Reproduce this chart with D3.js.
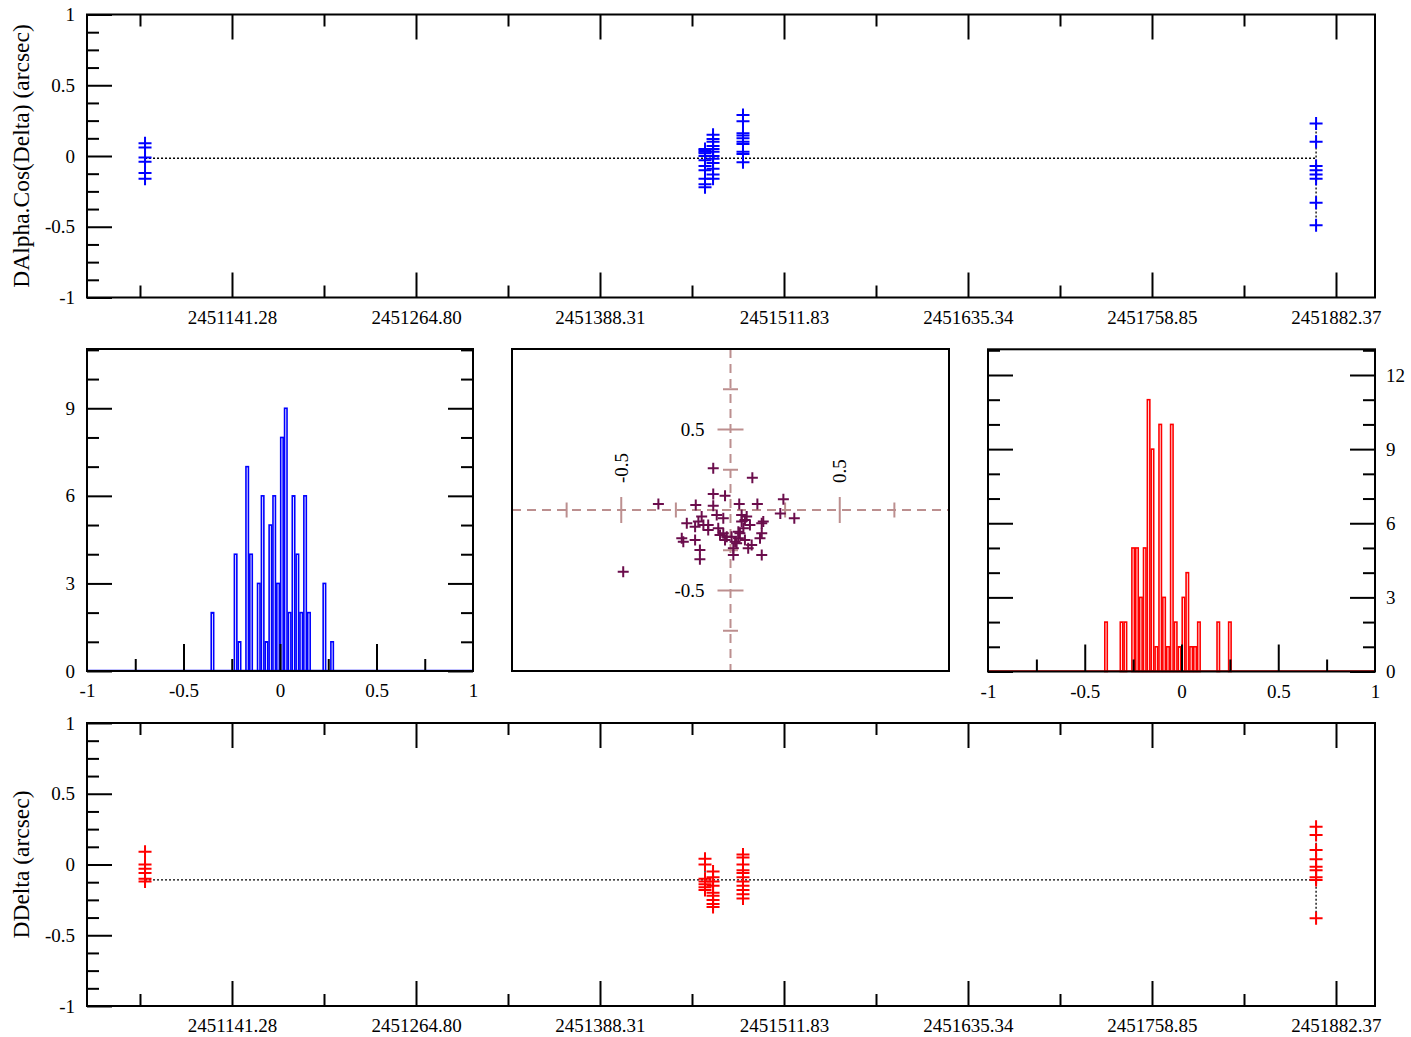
<!DOCTYPE html>
<html><head><meta charset="utf-8">
<script src="https://cdn.jsdelivr.net/npm/d3@7"></script>
<style>
body{margin:0;background:#fff}
text{font-family:"Liberation Serif","Times New Roman",serif}
</style>
</head><body>
<svg id="c" width="1411" height="1037"></svg>
<script>
// ---------------- DATA ----------------
const dateTicks = [2451141.28, 2451264.80, 2451388.31, 2451511.83, 2451635.34, 2451758.85, 2451882.37];
const dateTickLabels = ["2451141.28", "2451264.80", "2451388.31", "2451511.83", "2451635.34", "2451758.85", "2451882.37"];
const dateDomain = [2451043.95, 2451908.55];
const groupDates = [2451082.9, 2451458.8, 2451464.2, 2451484.3, 2451869.0];

const alphaByGroup = [
  [0.09, 0.06, -0.01, -0.04, -0.12, -0.16],
  [0.05, 0.04, 0.03, 0.02, 0.0, -0.03, -0.07, -0.10, -0.16, -0.20, -0.22],
  [0.15, 0.12, 0.10, 0.07, 0.05, 0.03, 0.0, -0.02, -0.05, -0.09, -0.13, -0.16],
  [0.29, 0.245, 0.16, 0.145, 0.125, 0.10, 0.085, 0.03, 0.014, -0.045],
  [0.23, 0.10, -0.07, -0.10, -0.13, -0.16, -0.33, -0.49]
];
const deltaByGroup = [
  [0.09, 0.0, -0.03, -0.06, -0.10, -0.12],
  [0.04, 0.0, -0.10, -0.12, -0.14, -0.16, -0.18],
  [-0.05, -0.09, -0.12, -0.15, -0.20, -0.22, -0.25, -0.28, -0.30],
  [0.07, 0.05, 0.0, -0.04, -0.06, -0.09, -0.12, -0.15, -0.18, -0.21, -0.24],
  [0.267, 0.208, 0.102, 0.037, -0.016, -0.04, -0.09, -0.11, -0.38]
];
const alphaMean = -0.016;
const deltaMean = -0.108;

const binWidth = 0.02;
const alphaBinCenters = [-0.35, -0.23, -0.21, -0.17, -0.15, -0.11, -0.09, -0.07, -0.05, -0.03, -0.01, 0.01, 0.03, 0.05, 0.07, 0.09, 0.11, 0.13, 0.15, 0.23, 0.27];
const alphaBinCounts  = [2, 4, 1, 7, 4, 3, 6, 1, 5, 6, 3, 8, 9, 2, 6, 4, 2, 6, 2, 3, 1];
const deltaBinCenters = [-0.39, -0.31, -0.29, -0.25, -0.23, -0.21, -0.19, -0.17, -0.15, -0.13, -0.11, -0.09, -0.07, -0.05, -0.03, -0.01, 0.01, 0.03, 0.05, 0.07, 0.09, 0.19, 0.25];
const deltaBinCounts  = [2, 2, 2, 5, 5, 3, 5, 11, 9, 1, 10, 3, 1, 10, 2, 1, 3, 4, 1, 1, 2, 2, 2];

const scatterX = [-0.079, 0.100, -0.330, -0.491, -0.079, -0.025, -0.159, -0.079, 0.040, 0.123, 0.242, 0.228, 0.292, -0.132, -0.063, -0.033, 0.051, 0.066, -0.200, -0.162, -0.124, -0.102, -0.056, -0.033, 0.005, 0.036, 0.059, 0.089, 0.143, 0.150, -0.223, -0.216, -0.162, -0.140, -0.140, -0.017, 0.021, 0.013, 0.013, 0.081, 0.097, 0.143, 0.135, 0.143, 0.043, 0.036, -0.048, -0.102, -0.025, 0.074, 0.051, -0.147, 0.028, 0.066];
const scatterY = [0.259, 0.201, 0.037, -0.383, 0.099, 0.089, 0.031, 0.027, 0.037, 0.037, 0.066, -0.021, -0.052, -0.041, -0.031, -0.052, -0.031, -0.062, -0.083, -0.104, -0.093, -0.124, -0.114, -0.145, -0.166, -0.135, -0.114, -0.093, -0.083, -0.072, -0.176, -0.197, -0.186, -0.248, -0.306, -0.166, -0.197, -0.238, -0.279, -0.238, -0.217, -0.279, -0.176, -0.145, -0.145, -0.176, -0.155, -0.093, -0.186, -0.041, -0.072, -0.072, -0.207, -0.186];

const valueTicks = [-1, -0.5, 0, 0.5, 1];
const valueTickLabels = ["-1", "-0.5", "0", "0.5", "1"];

// ---------------- DRAW ----------------
const svg = d3.select("#c");
const FS = 19;
const TITLE_FS = 23.5;
const cross = h => `M${-h},0H${h}M0,${-h}V${h}`;

function styleAxis(g, color) {
  g.select(".domain").remove();
  g.selectAll(".tick line").attr("stroke", color || "#000").attr("stroke-width", 2);
  g.selectAll(".tick text").attr("font-size", FS).attr("fill", "#000")
    .attr("font-family", '"Liberation Serif","Times New Roman",serif');
}

function timePanel(y0, y1, byGroup, mean, color, title) {
  const x = d3.scaleLinear(dateDomain, [87, 1375]);
  const y = d3.scaleLinear([-1, 1], [y1, y0]);
  const g = svg.append("g");
  const minorDates = [dateTicks[0] - (dateTicks[1] - dateTicks[0]) / 2]
    .concat(dateTicks.slice(1).map((d, i) => (d + dateTicks[i]) / 2));
  const minorVals = d3.range(-1, 1.0001, 0.125).filter(v => Math.abs(v * 2 - Math.round(v * 2)) > 1e-6);

  g.append("g").attr("transform", `translate(0,${y1})`)
    .call(d3.axisBottom(x).tickValues(dateTicks).tickSize(-25).tickPadding(13).tickFormat((d, i) => dateTickLabels[i]))
    .call(styleAxis);
  g.append("g").attr("transform", `translate(0,${y1})`)
    .call(d3.axisBottom(x).tickValues(minorDates).tickSize(-12).tickFormat(""))
    .call(styleAxis);
  g.append("g").attr("transform", `translate(0,${y0})`)
    .call(d3.axisTop(x).tickValues(dateTicks).tickSize(-25).tickFormat(""))
    .call(styleAxis);
  g.append("g").attr("transform", `translate(0,${y0})`)
    .call(d3.axisTop(x).tickValues(minorDates).tickSize(-12).tickFormat(""))
    .call(styleAxis);
  g.append("g").attr("transform", `translate(87,0)`)
    .call(d3.axisLeft(y).tickValues(valueTicks).tickSize(-25).tickPadding(12).tickFormat((d, i) => valueTickLabels[i]))
    .call(styleAxis);
  g.append("g").attr("transform", `translate(87,0)`)
    .call(d3.axisLeft(y).tickValues(minorVals).tickSize(-12).tickFormat(""))
    .call(styleAxis);

  g.append("rect").attr("x", 87).attr("y", y0).attr("width", 1288).attr("height", y1 - y0)
    .attr("fill", "none").attr("stroke", "#000").attr("stroke-width", 2);

  g.append("line").attr("x1", x(groupDates[0])).attr("x2", x(groupDates[groupDates.length - 1]))
    .attr("y1", y(mean)).attr("y2", y(mean))
    .attr("stroke", "#000").attr("stroke-width", 1.3).attr("stroke-dasharray", "2,2");
  byGroup.forEach((vals, i) => {
    g.append("line").attr("x1", x(groupDates[i])).attr("x2", x(groupDates[i]))
      .attr("y1", y(d3.max(vals))).attr("y2", y(d3.min(vals)))
      .attr("stroke", "#000").attr("stroke-width", 1.3).attr("stroke-dasharray", "2,2");
  });
  const pts = byGroup.flatMap((vals, i) => vals.map(v => [groupDates[i], v]));
  g.selectAll("path.pt").data(pts).join("path").attr("class", "pt")
    .attr("transform", d => `translate(${x(d[0])},${y(d[1])})`)
    .attr("d", cross(6.5)).attr("stroke", color).attr("stroke-width", 2).attr("fill", "none");

  svg.append("text").attr("transform", `translate(29,${(y0 + y1) / 2}) rotate(-90)`)
    .attr("text-anchor", "middle").attr("font-size", TITLE_FS).text(title);
}

timePanel(14.5, 297.5, alphaByGroup, alphaMean, "#0000ff", "DAlpha.Cos(Delta) (arcsec)");
timePanel(723, 1006, deltaByGroup, deltaMean, "#ff0000", "DDelta (arcsec)");

function histPanel(xl, xr, yt, yb, ymax, centers, counts, color, labelSide) {
  const x = d3.scaleLinear([-1, 1], [xl, xr]);
  const y = d3.scaleLinear([0, ymax], [yb, yt]);
  const g = svg.append("g");
  const majorY = d3.range(0, ymax, 3);
  const minorY = d3.range(1, ymax, 1).filter(v => v % 3 !== 0);

  g.append("line").attr("x1", x(-1)).attr("x2", x(1)).attr("y1", y(0) - 0.5).attr("y2", y(0) - 0.5)
    .attr("stroke", color).attr("stroke-width", 1.5);
  g.selectAll("rect.bin").data(centers.map((c, i) => [c, counts[i]])).join("rect").attr("class", "bin")
    .attr("x", d => x(d[0] - binWidth / 2) + 0.7)
    .attr("width", d => x(d[0] + binWidth / 2) - x(d[0] - binWidth / 2) - 1.4)
    .attr("y", d => y(d[1]))
    .attr("height", d => y(0) - y(d[1]))
    .attr("fill", "none").attr("stroke", color).attr("stroke-width", 1.6);

  g.append("g").attr("transform", `translate(0,${yb})`)
    .call(d3.axisBottom(x).tickValues(valueTicks).tickSize(0).tickPadding(13).tickFormat((d, i) => valueTickLabels[i]))
    .call(styleAxis);
  g.append("g").attr("transform", `translate(0,${yb})`)
    .call(d3.axisBottom(x).tickValues([-0.5, 0, 0.5]).tickSize(-27).tickFormat(""))
    .call(styleAxis);
  g.append("g").attr("transform", `translate(0,${yb})`)
    .call(d3.axisBottom(x).tickValues([-0.75, -0.25, 0.25, 0.75]).tickSize(-12).tickFormat(""))
    .call(styleAxis);

  g.append("g").attr("transform", `translate(${xl},0)`)
    .call(d3.axisLeft(y).tickValues(majorY).tickSize(-25).tickPadding(12).tickFormat(labelSide === "left" ? d3.format("d") : ""))
    .call(styleAxis);
  g.append("g").attr("transform", `translate(${xl},0)`)
    .call(d3.axisLeft(y).tickValues(minorY).tickSize(-12).tickFormat(""))
    .call(styleAxis);
  g.append("g").attr("transform", `translate(${xr},0)`)
    .call(d3.axisRight(y).tickValues(majorY).tickSize(-25).tickPadding(11).tickFormat(labelSide === "right" ? d3.format("d") : ""))
    .call(styleAxis);
  g.append("g").attr("transform", `translate(${xr},0)`)
    .call(d3.axisRight(y).tickValues(minorY).tickSize(-12).tickFormat(""))
    .call(styleAxis);

  g.append("rect").attr("x", xl).attr("y", yt).attr("width", xr - xl).attr("height", yb - yt)
    .attr("fill", "none").attr("stroke", "#000").attr("stroke-width", 2);
}

histPanel(87, 473, 349, 671, 11.03, alphaBinCenters, alphaBinCounts, "#0000ff", "left");
histPanel(988, 1375, 349.3, 671.5, 13.04, deltaBinCenters, deltaBinCounts, "#ff0000", "right");

(function () {
  const xl = 512, xr = 949, yt = 349, yb = 671;
  const x = d3.scaleLinear([-1, 1], [xl, xr]);
  const y = d3.scaleLinear([-1, 1], [yb, yt]);
  const g = svg.append("g");
  const axc = "#bc8f8f";
  g.append("line").attr("x1", xl).attr("x2", xr).attr("y1", y(0)).attr("y2", y(0))
    .attr("stroke", axc).attr("stroke-width", 2).attr("stroke-dasharray", "9,6");
  g.append("line").attr("x1", x(0)).attr("x2", x(0)).attr("y1", yt).attr("y2", yb)
    .attr("stroke", axc).attr("stroke-width", 2).attr("stroke-dasharray", "9,6");
  const tks = [-0.75, -0.5, -0.25, 0.25, 0.5, 0.75];
  tks.forEach(t => {
    const h = Math.abs(t) === 0.5 ? 13 : 7.5;
    g.append("line").attr("x1", x(t)).attr("x2", x(t)).attr("y1", y(0) - h).attr("y2", y(0) + h)
      .attr("stroke", axc).attr("stroke-width", 2);
    g.append("line").attr("x1", x(0) - h).attr("x2", x(0) + h).attr("y1", y(t)).attr("y2", y(t))
      .attr("stroke", axc).attr("stroke-width", 2);
  });
  [-0.5, 0.5].forEach(t => {
    g.append("text").attr("transform", `translate(${x(t) + 6.5},${y(0) - 27}) rotate(-90)`)
      .attr("font-size", FS).attr("text-anchor", "start").text(t < 0 ? "-0.5" : "0.5");
    g.append("text").attr("x", x(0) - 26).attr("y", y(t)).attr("dy", "0.35em")
      .attr("font-size", FS).attr("text-anchor", "end").text(t < 0 ? "-0.5" : "0.5");
  });
  g.selectAll("path.sp").data(scatterX.map((v, i) => [v, scatterY[i]])).join("path").attr("class", "sp")
    .attr("transform", d => `translate(${x(d[0])},${y(d[1])})`)
    .attr("d", cross(5.5)).attr("stroke", "#6b0d4c").attr("stroke-width", 2).attr("fill", "none");
  g.append("rect").attr("x", xl).attr("y", yt).attr("width", xr - xl).attr("height", yb - yt)
    .attr("fill", "none").attr("stroke", "#000").attr("stroke-width", 2);
})();
</script>
</body></html>
